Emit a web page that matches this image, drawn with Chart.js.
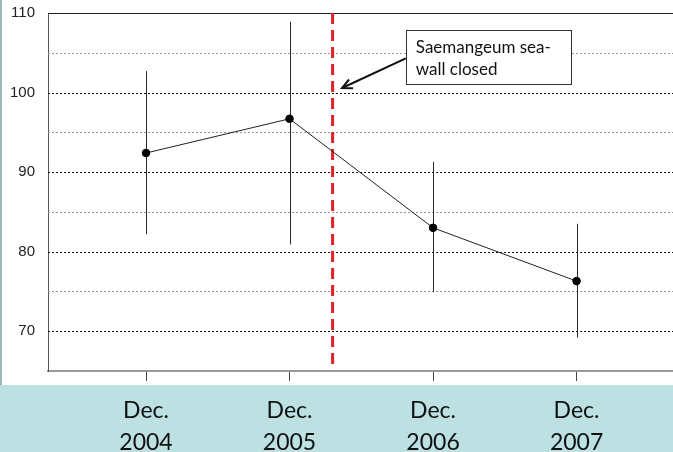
<!DOCTYPE html>
<html>
<head>
<meta charset="utf-8">
<script src="https://cdn.jsdelivr.net/npm/chart.js@4.4.1/dist/chart.umd.min.js"></script>
<style>
  html, body { margin: 0; padding: 0; background: #ffffff; }
  #wrap { width: 673px; height: 452px; position: relative; }
</style>
</head>
<body>
<div id="wrap"><canvas id="chart" width="673" height="452"></canvas></div>
<script>
// Survey periods (category positions 0..3 on a linear x scale)
const periods = [['Dec.', '2004'], ['Dec.', '2005'], ['Dec.', '2006'], ['Dec.', '2007']];
const periodIndex = [0, 1, 2, 3];
// Mean values and their error ranges
const meanValues = [92.4, 96.7, 83.0, 76.3];
const upperValues = [102.7, 108.9, 91.3, 83.5];
const lowerValues = [82.2, 80.9, 74.9, 69.2];
// Y axis ticks
const yMin = 65, yMax = 110, yStep = 5;
// Sea-wall closure, between Dec. 2005 and Dec. 2006
const wallClosedAt = 1.3;
const noteLines = ['Saemangeum sea-', 'wall closed'];

const points = periodIndex.map((x, i) => ({ x, y: meanValues[i] }));

// Background band, left edge strip, dotted grid, error bars, closure marker, note
const decor = {
  id: 'decor',
  beforeDraw(chart) {
    const { ctx, chartArea } = chart;
    ctx.save();
    ctx.fillStyle = '#ffffff';
    ctx.fillRect(0, 0, chart.width, chart.height);
    const bandTop = chartArea.bottom + 14;
    ctx.fillStyle = '#bde0e3';
    ctx.fillRect(0, bandTop, chart.width, chart.height - bandTop);
    ctx.fillStyle = '#9fb6bb';
    ctx.fillRect(0, 0, 2, bandTop);
    ctx.restore();
  },
  beforeDatasetsDraw(chart) {
    const { ctx, chartArea, scales: { x, y } } = chart;
    ctx.save();
    // dotted gridlines
    for (let v = yMin + yStep; v < yMax; v += yStep) {
      const py = Math.round(y.getPixelForValue(v)) + 0.5;
      ctx.beginPath();
      ctx.setLineDash([2, 2]);
      ctx.lineWidth = 1;
      ctx.strokeStyle = (v % 10 === 0) ? '#111111' : '#9a9a9a';
      ctx.moveTo(chartArea.left, py);
      ctx.lineTo(chartArea.right, py);
      ctx.stroke();
    }
    ctx.setLineDash([]);
    // top border
    const pTop = Math.round(y.getPixelForValue(yMax)) + 0.5;
    ctx.strokeStyle = '#222222';
    ctx.lineWidth = 1.2;
    ctx.beginPath();
    ctx.moveTo(chartArea.left, pTop);
    ctx.lineTo(chartArea.right, pTop);
    ctx.stroke();
    // error bars
    ctx.strokeStyle = '#2a2a2a';
    ctx.lineWidth = 1;
    periodIndex.forEach((xi, i) => {
      const px = Math.round(x.getPixelForValue(xi)) + 0.5;
      ctx.beginPath();
      ctx.moveTo(px, y.getPixelForValue(upperValues[i]));
      ctx.lineTo(px, y.getPixelForValue(lowerValues[i]));
      ctx.stroke();
    });
    // red dashed closure line
    const rx = x.getPixelForValue(wallClosedAt);
    ctx.strokeStyle = '#e0222a';
    ctx.lineWidth = 3;
    ctx.setLineDash([11, 6]);
    ctx.beginPath();
    ctx.moveTo(rx, chartArea.top);
    ctx.lineTo(rx, chartArea.bottom - 3);
    ctx.stroke();
    ctx.setLineDash([]);
    ctx.restore();
  },
  afterDatasetsDraw(chart) {
    const { ctx, scales: { x, y } } = chart;
    ctx.save();
    // note box
    const bx1 = x.getPixelForValue(1.81), bx2 = x.getPixelForValue(2.96);
    const by1 = y.getPixelForValue(107.86), by2 = y.getPixelForValue(101.07);
    ctx.fillStyle = '#ffffff';
    ctx.fillRect(bx1, by1, bx2 - bx1, by2 - by1);
    ctx.strokeStyle = '#333333';
    ctx.lineWidth = 1;
    ctx.strokeRect(Math.round(bx1) + 0.5, Math.round(by1) + 0.5, Math.round(bx2 - bx1), Math.round(by2 - by1));
    ctx.fillStyle = '#111111';
    ctx.font = '17px Lato, "Open Sans", sans-serif';
    ctx.textBaseline = 'alphabetic';
    ctx.textAlign = 'left';
    ctx.fillText(noteLines[0], bx1 + 10, by1 + 23);
    ctx.fillText(noteLines[1], bx1 + 10, by1 + 45);
    // arrow from the box to the closure line
    const ax1 = bx1, ay1 = y.getPixelForValue(104.3);
    const ax2 = x.getPixelForValue(1.366), ay2 = y.getPixelForValue(100.57);
    ctx.strokeStyle = '#111111';
    ctx.lineWidth = 2;
    ctx.beginPath();
    ctx.moveTo(ax1, ay1);
    ctx.lineTo(ax2, ay2);
    ctx.stroke();
    const ang = Math.atan2(ay2 - ay1, ax2 - ax1);
    const head = 11, spread = 0.45;
    ctx.beginPath();
    ctx.moveTo(ax2 - head * Math.cos(ang - spread), ay2 - head * Math.sin(ang - spread));
    ctx.lineTo(ax2, ay2);
    ctx.lineTo(ax2 - head * Math.cos(ang + spread), ay2 - head * Math.sin(ang + spread));
    ctx.stroke();
    ctx.restore();
  }
};

new Chart(document.getElementById('chart'), {
  type: 'line',
  data: {
    datasets: [{
      data: points,
      borderColor: '#222222',
      borderWidth: 1,
      pointBackgroundColor: '#000000',
      pointBorderColor: '#000000',
      pointRadius: 3.8,
      pointStyle: 'circle',
      tension: 0
    }]
  },
  options: {
    responsive: false,
    animation: false,
    events: [],
    layout: { autoPadding: false, padding: { top: 13, left: 0, right: 0, bottom: 0 } },
    plugins: { legend: { display: false }, tooltip: { enabled: false } },
    scales: {
      x: {
        type: 'linear',
        min: -0.683,
        max: 3.672,
        afterBuildTicks(scale) { scale.ticks = periodIndex.map(v => ({ value: v })); },
        afterFit(scale) {
          scale.height = 81;
          scale.paddingLeft = 0;
          scale.paddingRight = 0;
        },
        grid: {
          drawOnChartArea: false,
          drawTicks: true,
          tickLength: 10,
          tickColor: '#444444',
          tickWidth: 1
        },
        border: { display: true, color: '#9a9a9a', width: 2 },
        ticks: {
          autoSkip: false,
          maxRotation: 0,
          padding: 13,
          color: '#111111',
          font: { family: 'Lato, "Open Sans", sans-serif', size: 23, lineHeight: 1.4 },
          callback: (v) => periods[v]
        }
      },
      y: {
        min: yMin,
        max: yMax,
        afterBuildTicks(scale) {
          const t = [];
          for (let v = yMin; v <= yMax; v += yStep) t.push({ value: v });
          scale.ticks = t;
        },
        afterFit(scale) {
          scale.width = 48;
          scale.paddingTop = 0;
          scale.paddingBottom = 0;
        },
        grid: { display: false, drawTicks: false },
        border: { display: true, color: '#555555', width: 1 },
        ticks: {
          padding: 13,
          color: '#222222',
          font: { family: '"Liberation Sans", Arial, sans-serif', size: 15 },
          callback: (v) => (v % 10 === 0 && v > yMin) ? String(v) : ''
        }
      }
    }
  },
  plugins: [decor]
});
</script>
</body>
</html>
